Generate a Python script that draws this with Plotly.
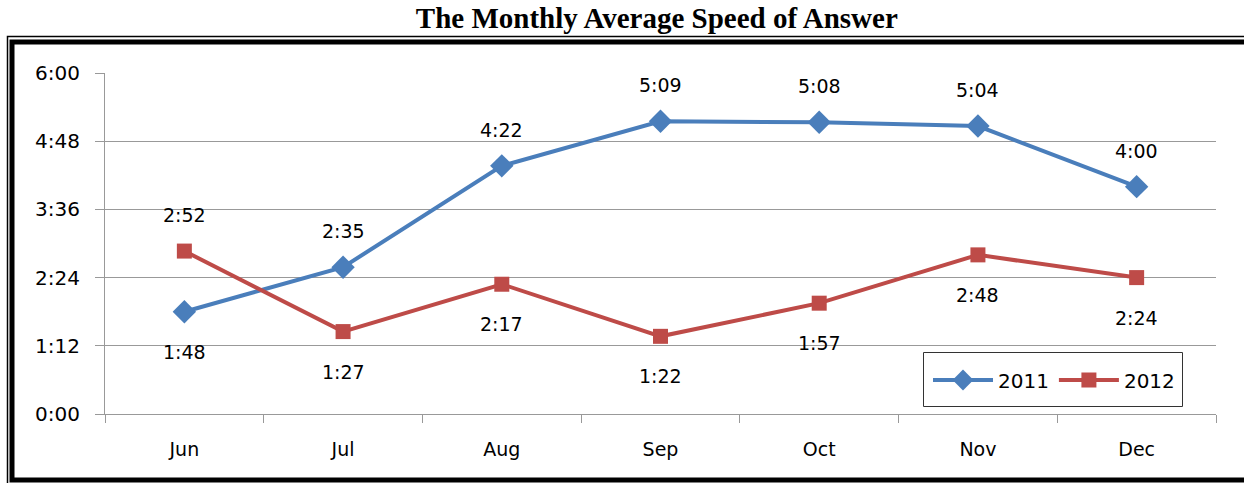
import plotly.graph_objects as go

months = ["Jun", "Jul", "Aug", "Sep", "Oct", "Nov", "Dec"]
# values in seconds
s2011 = [108, 155, 262, 309, 308, 304, 240]
s2012 = [172, 87, 137, 82, 117, 168, 144]
pos2011 = ["below", "above", "above", "above", "above", "above", "above"]
pos2012 = ["above", "below", "below", "below", "below", "below", "below"]
yticks = [0, 72, 144, 216, 288, 360]

def fmt(s):
    return f"{s // 60}:{s % 60:02d}"

W, H = 1244, 483
L, R, T, B = 105, 28, 73, 69
PW, PH = W - L - R, H - T - B

FONT = "DejaVu Sans, Verdana, sans-serif"
BLUE = "#4A7EBB"
RED = "#BE4B48"

fig = go.Figure()
fig.add_trace(go.Scatter(x=months, y=s2011, name="2011", mode="lines+markers",
                         line=dict(color=BLUE, width=4),
                         marker=dict(symbol="diamond", size=18, color=BLUE)))
fig.add_trace(go.Scatter(x=months, y=s2012, name="2012", mode="lines+markers",
                         line=dict(color=RED, width=4),
                         marker=dict(symbol="square", size=15, color=RED)))

for vals, pos in ((s2011, pos2011), (s2012, pos2012)):
    for m, v, p in zip(months, vals, pos):
        fig.add_annotation(x=m, y=v, text=fmt(v), showarrow=False,
                           yshift=36 if p == "above" else -40,
                           font=dict(family=FONT, size=19, color="black"))

def px(x):
    return (x - L) / PW

def py(y):
    return (H - B - y) / PH

shapes = [
    dict(type="rect", xref="paper", yref="paper",
         x0=px(7.5), x1=px(1260), y0=py(36.5), y1=py(486),
         line=dict(color="black", width=1.5)),
    dict(type="rect", xref="paper", yref="paper",
         x0=px(12), x1=px(1252), y0=py(42), y1=py(480),
         line=dict(color="black", width=5)),
    # legend box
    dict(type="rect", xref="paper", yref="paper",
         x0=px(923.5), x1=px(1182.5), y0=py(352.5), y1=py(406.5),
         line=dict(color="#333333", width=1), fillcolor="white", layer="above"),
]

fig.update_layout(
    width=W, height=H,
    margin=dict(l=L, r=R, t=T, b=B),
    paper_bgcolor="white", plot_bgcolor="white",
    title=dict(text="<b>The Monthly Average Speed of Answer</b>",
               x=0.528, xanchor="center", y=1 - 18 / H, yanchor="middle",
               font=dict(family="Liberation Serif, Times New Roman, serif", size=29, color="black")),
    shapes=shapes,
    showlegend=True,
    legend=dict(x=px(928), y=py(380), xanchor="left", yanchor="middle",
                orientation="h", borderwidth=0,
                bgcolor="rgba(0,0,0,0)", font=dict(family=FONT, size=20, color="black"),
                itemwidth=60, tracegroupgap=0),
    xaxis=dict(type="category", range=[-0.5, 6.5], tickson="boundaries",
               ticks="outside", ticklen=8, tickcolor="#999999",
               showline=True, linecolor="#999999", linewidth=1,
               showgrid=False, tickfont=dict(family=FONT, size=19, color="black"),
               ticklabelstandoff=18),
    yaxis=dict(range=[0, 360], tickvals=yticks, ticktext=[fmt(v) for v in yticks],
               ticks="outside", ticklen=9, tickcolor="#999999",
               showline=True, linecolor="#999999", linewidth=1,
               showgrid=True, gridcolor="#999999", gridwidth=1,
               zeroline=False, tickfont=dict(family=FONT, size=20, color="black"),
               ticklabelstandoff=11),
)

fig.write_html("out.html", config={"displayModeBar": False},
               post_script="document.body.style.margin='0';")
